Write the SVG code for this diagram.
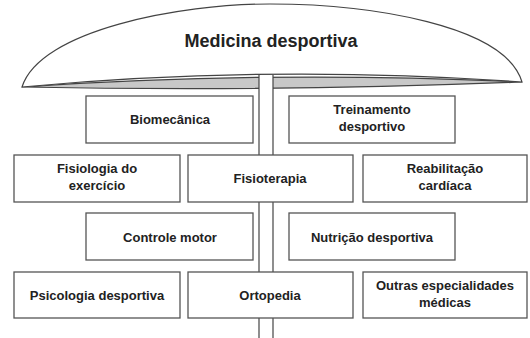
<svg xmlns="http://www.w3.org/2000/svg" width="530" height="338" viewBox="0 0 530 338">
<style>
.box{fill:#fff;stroke:#555;stroke-width:1.3}
.t{font-family:"Liberation Sans",Arial,sans-serif;font-weight:bold;font-size:13px;fill:#222;text-anchor:middle}
.ln{stroke:#444;stroke-width:1.2;fill:none}
</style>
<rect width="530" height="338" fill="#fff"/>
<g id="umbrella">
<path d="M22,87 Q270,70 522,82 Q270,92 22,87 Z" fill="#c8c8c8" stroke="#444" stroke-width="1.2"/>
<path d="M22,87 C40,30 180,4 270,4 C370,4 505,25 522,82 Q270,64 22,87 Z" fill="#fff" stroke="#444" stroke-width="1.2"/>
<text x="271" y="47" class="t" style="font-size:18px">Medicina desportiva</text>
</g>
<g id="connectors">
<rect x="259" y="75" width="14" height="270" fill="#fff" stroke="none"/>
<line class="ln" x1="259" y1="75" x2="259" y2="338"/>
<line class="ln" x1="273" y1="75" x2="273" y2="338"/>
</g>
<g id="biomecanica"><rect class="box" x="86" y="96" width="167" height="47"/><text class="t" x="170" y="124">Biomecânica</text></g>
<g id="treinamento"><rect class="box" x="289" y="96" width="166" height="47"/><text class="t" x="372" y="114">Treinamento</text><text class="t" x="372" y="131">desportivo</text></g>
<g id="fisiologia"><rect class="box" x="14" y="155" width="166" height="47"/><text class="t" x="97" y="173">Fisiologia do</text><text class="t" x="97" y="190">exercício</text></g>
<g id="fisioterapia"><rect class="box" x="188" y="155" width="165" height="47"/><text class="t" x="270" y="183">Fisioterapia</text></g>
<g id="reabilitacao"><rect class="box" x="363" y="155" width="164" height="47"/><text class="t" x="445" y="173">Reabilitação</text><text class="t" x="445" y="190">cardíaca</text></g>
<g id="controle"><rect class="box" x="86" y="213" width="167" height="47"/><text class="t" x="170" y="242">Controle motor</text></g>
<g id="nutricao"><rect class="box" x="289" y="213" width="166" height="47"/><text class="t" x="372" y="242">Nutrição desportiva</text></g>
<g id="psicologia"><rect class="box" x="14" y="272" width="166" height="46"/><text class="t" x="97" y="300">Psicologia desportiva</text></g>
<g id="ortopedia"><rect class="box" x="188" y="272" width="165" height="46"/><text class="t" x="270" y="300">Ortopedia</text></g>
<g id="outras"><rect class="box" x="363" y="272" width="164" height="46"/><text class="t" x="445" y="290">Outras especialidades</text><text class="t" x="445" y="307">médicas</text></g>
</svg>
